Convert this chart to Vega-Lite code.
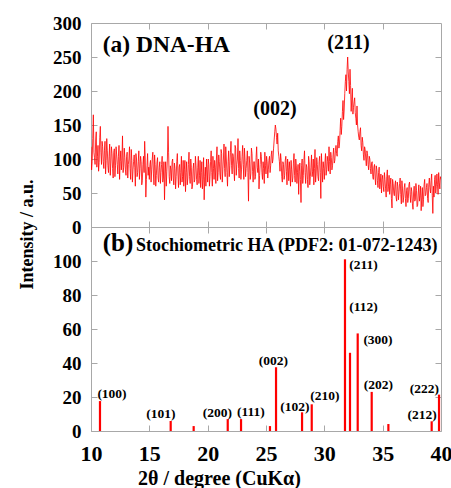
{
  "$schema": "https://vega.github.io/schema/vega-lite/v6.json",
  "background": "white",
  "padding": {"left": 17, "top": 13, "right": 0, "bottom": 0},
  "bounds": "flush",
  "spacing": 0,
  "config": {
    "font": "Times New Roman, Liberation Serif, serif",
    "view": {"stroke": "#a8a8a8", "strokeWidth": 1},
    "axis": {
      "domain": false,
      "grid": false,
      "labelFlush": false,
      "tickColor": "#a8a8a8",
      "tickSize": -6,
      "tickWidth": 1,
      "labelFont": "Times New Roman, Liberation Serif, serif",
      "labelFontWeight": "bold",
      "labelColor": "black",
      "titleFont": "Times New Roman, Liberation Serif, serif",
      "titleFontWeight": "bold",
      "titleColor": "black"
    },
    "text": {"font": "Times New Roman, Liberation Serif, serif", "fontWeight": "bold", "color": "black"}
  },
  "datasets": {
    "scan": [
      {"t":10.0,"i":118},{"t":10.1,"i":96},{"t":10.2,"i":165},{"t":10.3,"i":102},{"t":10.4,"i":128},{"t":10.5,"i":88},{"t":10.6,"i":120},{"t":10.7,"i":95},{"t":10.8,"i":148},{"t":10.9,"i":92},
      {"t":11.0,"i":118},{"t":11.1,"i":86},{"t":11.2,"i":126},{"t":11.3,"i":98},{"t":11.4,"i":112},{"t":11.5,"i":80},{"t":11.6,"i":122},{"t":11.7,"i":94},{"t":11.8,"i":108},{"t":11.9,"i":72},
      {"t":12.0,"i":115},{"t":12.1,"i":90},{"t":12.2,"i":106},{"t":12.3,"i":78},{"t":12.4,"i":120},{"t":12.5,"i":96},{"t":12.6,"i":84},{"t":12.7,"i":134},{"t":12.8,"i":88},{"t":12.9,"i":102},
      {"t":13.0,"i":76},{"t":13.1,"i":110},{"t":13.2,"i":92},{"t":13.3,"i":118},{"t":13.4,"i":70},{"t":13.5,"i":98},{"t":13.6,"i":84},{"t":13.7,"i":106},{"t":13.8,"i":60},{"t":13.9,"i":100},
      {"t":14.0,"i":80},{"t":14.1,"i":112},{"t":14.2,"i":86},{"t":14.3,"i":96},{"t":14.4,"i":68},{"t":14.5,"i":104},{"t":14.6,"i":126},{"t":14.7,"i":44},{"t":14.8,"i":90},{"t":14.9,"i":76},
      {"t":15.0,"i":70},{"t":15.1,"i":98},{"t":15.2,"i":84},{"t":15.3,"i":110},{"t":15.4,"i":62},{"t":15.5,"i":92},{"t":15.6,"i":76},{"t":15.7,"i":102},{"t":15.8,"i":66},{"t":15.9,"i":96},
      {"t":16.0,"i":80},{"t":16.1,"i":104},{"t":16.2,"i":72},{"t":16.3,"i":40},{"t":16.4,"i":96},{"t":16.5,"i":82},{"t":16.6,"i":148},{"t":16.7,"i":74},{"t":16.8,"i":90},{"t":16.9,"i":68},
      {"t":17.0,"i":100},{"t":17.1,"i":62},{"t":17.2,"i":86},{"t":17.3,"i":74},{"t":17.4,"i":108},{"t":17.5,"i":58},{"t":17.6,"i":92},{"t":17.7,"i":80},{"t":17.8,"i":66},{"t":17.9,"i":98},
      {"t":18.0,"i":84},{"t":18.1,"i":52},{"t":18.2,"i":96},{"t":18.3,"i":72},{"t":18.4,"i":110},{"t":18.5,"i":64},{"t":18.6,"i":88},{"t":18.7,"i":60},{"t":18.8,"i":94},{"t":18.9,"i":70},
      {"t":19.0,"i":90},{"t":19.1,"i":62},{"t":19.2,"i":104},{"t":19.3,"i":76},{"t":19.4,"i":58},{"t":19.5,"i":96},{"t":19.6,"i":70},{"t":19.7,"i":40},{"t":19.8,"i":88},{"t":19.9,"i":100},
      {"t":20.0,"i":66},{"t":20.1,"i":92},{"t":20.2,"i":74},{"t":20.3,"i":112},{"t":20.4,"i":60},{"t":20.5,"i":86},{"t":20.6,"i":98},{"t":20.7,"i":64},{"t":20.8,"i":118},{"t":20.9,"i":80},
      {"t":21.0,"i":96},{"t":21.1,"i":70},{"t":21.2,"i":108},{"t":21.3,"i":84},{"t":21.4,"i":122},{"t":21.5,"i":74},{"t":21.6,"i":100},{"t":21.7,"i":60},{"t":21.8,"i":112},{"t":21.9,"i":90},
      {"t":22.0,"i":126},{"t":22.1,"i":78},{"t":22.2,"i":104},{"t":22.3,"i":68},{"t":22.4,"i":116},{"t":22.5,"i":92},{"t":22.6,"i":130},{"t":22.7,"i":72},{"t":22.8,"i":98},{"t":22.9,"i":84},
      {"t":23.0,"i":120},{"t":23.1,"i":70},{"t":23.2,"i":100},{"t":23.3,"i":86},{"t":23.4,"i":112},{"t":23.5,"i":38},{"t":23.6,"i":94},{"t":23.7,"i":78},{"t":23.8,"i":108},{"t":23.9,"i":66},
      {"t":24.0,"i":96},{"t":24.1,"i":74},{"t":24.2,"i":118},{"t":24.3,"i":80},{"t":24.4,"i":56},{"t":24.5,"i":92},{"t":24.6,"i":104},{"t":24.7,"i":70},{"t":24.8,"i":86},{"t":24.9,"i":110},
      {"t":25.0,"i":78},{"t":25.1,"i":96},{"t":25.2,"i":84},{"t":25.3,"i":104},{"t":25.4,"i":90},{"t":25.5,"i":112},{"t":25.6,"i":100},{"t":25.7,"i":128},{"t":25.8,"i":150},{"t":25.9,"i":132},
      {"t":26.0,"i":138},{"t":26.1,"i":104},{"t":26.2,"i":82},{"t":26.3,"i":98},{"t":26.4,"i":66},{"t":26.5,"i":92},{"t":26.6,"i":76},{"t":26.7,"i":104},{"t":26.8,"i":62},{"t":26.9,"i":88},
      {"t":27.0,"i":96},{"t":27.1,"i":60},{"t":27.2,"i":84},{"t":27.3,"i":72},{"t":27.4,"i":108},{"t":27.5,"i":66},{"t":27.6,"i":90},{"t":27.7,"i":80},{"t":27.8,"i":48},{"t":27.9,"i":94},
      {"t":28.0,"i":36},{"t":28.1,"i":100},{"t":28.2,"i":76},{"t":28.3,"i":112},{"t":28.4,"i":64},{"t":28.5,"i":88},{"t":28.6,"i":58},{"t":28.7,"i":96},{"t":28.8,"i":74},{"t":28.9,"i":106},
      {"t":29.0,"i":82},{"t":29.1,"i":62},{"t":29.2,"i":114},{"t":29.3,"i":78},{"t":29.4,"i":92},{"t":29.5,"i":68},{"t":29.6,"i":104},{"t":29.7,"i":42},{"t":29.8,"i":88},{"t":29.9,"i":96},
      {"t":30.0,"i":70},{"t":30.1,"i":108},{"t":30.2,"i":84},{"t":30.3,"i":96},{"t":30.4,"i":118},{"t":30.5,"i":78},{"t":30.6,"i":102},{"t":30.7,"i":90},{"t":30.8,"i":116},{"t":30.9,"i":98},
      {"t":31.0,"i":120},{"t":31.1,"i":104},{"t":31.2,"i":134},{"t":31.3,"i":122},{"t":31.4,"i":160},{"t":31.5,"i":148},{"t":31.6,"i":186},{"t":31.7,"i":172},{"t":31.8,"i":214},{"t":31.9,"i":200},
      {"t":32.0,"i":250},{"t":32.1,"i":214},{"t":32.2,"i":232},{"t":32.3,"i":170},{"t":32.4,"i":204},{"t":32.5,"i":176},{"t":32.6,"i":190},{"t":32.7,"i":160},{"t":32.8,"i":178},{"t":32.9,"i":140},
      {"t":33.0,"i":128},{"t":33.1,"i":146},{"t":33.2,"i":112},{"t":33.3,"i":124},{"t":33.4,"i":98},{"t":33.5,"i":114},{"t":33.6,"i":90},{"t":33.7,"i":108},{"t":33.8,"i":84},{"t":33.9,"i":100},
      {"t":34.0,"i":78},{"t":34.1,"i":96},{"t":34.2,"i":70},{"t":34.3,"i":92},{"t":34.4,"i":62},{"t":34.5,"i":84},{"t":34.6,"i":58},{"t":34.7,"i":88},{"t":34.8,"i":66},{"t":34.9,"i":50},
      {"t":35.0,"i":76},{"t":35.1,"i":52},{"t":35.2,"i":70},{"t":35.3,"i":44},{"t":35.4,"i":84},{"t":35.5,"i":60},{"t":35.6,"i":48},{"t":35.7,"i":72},{"t":35.8,"i":28},{"t":35.9,"i":64},
      {"t":36.0,"i":46},{"t":36.1,"i":68},{"t":36.2,"i":38},{"t":36.3,"i":60},{"t":36.4,"i":50},{"t":36.5,"i":72},{"t":36.6,"i":34},{"t":36.7,"i":56},{"t":36.8,"i":44},{"t":36.9,"i":64},
      {"t":37.0,"i":30},{"t":37.1,"i":58},{"t":37.2,"i":42},{"t":37.3,"i":66},{"t":37.4,"i":36},{"t":37.5,"i":52},{"t":37.6,"i":26},{"t":37.7,"i":60},{"t":37.8,"i":40},{"t":37.9,"i":54},
      {"t":38.0,"i":32},{"t":38.1,"i":62},{"t":38.2,"i":46},{"t":38.3,"i":24},{"t":38.4,"i":58},{"t":38.5,"i":40},{"t":38.6,"i":70},{"t":38.7,"i":48},{"t":38.8,"i":64},{"t":38.9,"i":36},
      {"t":39.0,"i":72},{"t":39.1,"i":50},{"t":39.2,"i":78},{"t":39.3,"i":20},{"t":39.4,"i":44},{"t":39.5,"i":76},{"t":39.6,"i":60},{"t":39.7,"i":62},{"t":39.8,"i":80},{"t":39.9,"i":56},
      {"t":40.0,"i":70},
      {"t":10.05,"i":84},{"t":10.15,"i":130},{"t":10.25,"i":110},{"t":10.35,"i":92},{"t":10.45,"i":140},{"t":10.55,"i":104},{"t":10.65,"i":82},{"t":10.75,"i":132},{"t":10.85,"i":110},{"t":10.95,"i":126},
      {"t":11.05,"i":96},{"t":11.15,"i":112},{"t":11.25,"i":78},{"t":11.35,"i":130},{"t":11.45,"i":90},{"t":11.55,"i":104},{"t":11.65,"i":76},{"t":11.75,"i":118},{"t":11.85,"i":86},{"t":11.95,"i":110},
      {"t":12.05,"i":74},{"t":12.15,"i":118},{"t":12.25,"i":92},{"t":12.35,"i":104},{"t":12.45,"i":70},{"t":12.55,"i":112},{"t":12.65,"i":98},{"t":12.75,"i":80},{"t":12.85,"i":116},{"t":12.95,"i":84},
      {"t":13.05,"i":104},{"t":13.15,"i":72},{"t":13.25,"i":100},{"t":13.35,"i":86},{"t":13.45,"i":114},{"t":13.55,"i":66},{"t":13.65,"i":96},{"t":13.75,"i":88},{"t":13.85,"i":108},{"t":13.95,"i":74},
      {"t":14.05,"i":96},{"t":14.15,"i":70},{"t":14.25,"i":104},{"t":14.35,"i":62},{"t":14.45,"i":92},{"t":14.55,"i":80},{"t":14.65,"i":100},{"t":14.75,"i":70},{"t":14.85,"i":108},{"t":14.95,"i":88},
      {"t":15.05,"i":92},{"t":15.15,"i":66},{"t":15.25,"i":100},{"t":15.35,"i":78},{"t":15.45,"i":106},{"t":15.55,"i":60},{"t":15.65,"i":94},{"t":15.75,"i":72},{"t":15.85,"i":88},{"t":15.95,"i":64},
      {"t":16.05,"i":92},{"t":16.15,"i":66},{"t":16.25,"i":96},{"t":16.35,"i":78},{"t":16.45,"i":60},{"t":16.55,"i":100},{"t":16.65,"i":110},{"t":16.75,"i":64},{"t":16.85,"i":84},{"t":16.95,"i":96},
      {"t":17.05,"i":72},{"t":17.15,"i":94},{"t":17.25,"i":56},{"t":17.35,"i":96},{"t":17.45,"i":78},{"t":17.55,"i":88},{"t":17.65,"i":62},{"t":17.75,"i":104},{"t":17.85,"i":74},{"t":17.95,"i":60},
      {"t":18.05,"i":98},{"t":18.15,"i":80},{"t":18.25,"i":62},{"t":18.35,"i":92},{"t":18.45,"i":74},{"t":18.55,"i":100},{"t":18.65,"i":56},{"t":18.75,"i":86},{"t":18.85,"i":66},{"t":18.95,"i":104},
      {"t":19.05,"i":70},{"t":19.15,"i":88},{"t":19.25,"i":64},{"t":19.35,"i":98},{"t":19.45,"i":80},{"t":19.55,"i":56},{"t":19.65,"i":102},{"t":19.75,"i":74},{"t":19.85,"i":60},{"t":19.95,"i":84},
      {"t":20.05,"i":100},{"t":20.15,"i":60},{"t":20.25,"i":96},{"t":20.35,"i":80},{"t":20.45,"i":104},{"t":20.55,"i":70},{"t":20.65,"i":88},{"t":20.75,"i":100},{"t":20.85,"i":68},{"t":20.95,"i":106},
      {"t":21.05,"i":78},{"t":21.15,"i":114},{"t":21.25,"i":66},{"t":21.35,"i":100},{"t":21.45,"i":86},{"t":21.55,"i":118},{"t":21.65,"i":80},{"t":21.75,"i":96},{"t":21.85,"i":74},{"t":21.95,"i":110},
      {"t":22.05,"i":90},{"t":22.15,"i":108},{"t":22.25,"i":84},{"t":22.35,"i":120},{"t":22.45,"i":76},{"t":22.55,"i":100},{"t":22.65,"i":86},{"t":22.75,"i":112},{"t":22.85,"i":70},{"t":22.95,"i":104},
      {"t":23.05,"i":92},{"t":23.15,"i":116},{"t":23.25,"i":74},{"t":23.35,"i":98},{"t":23.45,"i":80},{"t":23.55,"i":104},{"t":23.65,"i":70},{"t":23.75,"i":116},{"t":23.85,"i":82},{"t":23.95,"i":96},
      {"t":24.05,"i":70},{"t":24.15,"i":102},{"t":24.25,"i":88},{"t":24.35,"i":100},{"t":24.45,"i":76},{"t":24.55,"i":110},{"t":24.65,"i":80},{"t":24.75,"i":96},{"t":24.85,"i":64},{"t":24.95,"i":90},
      {"t":25.05,"i":104},{"t":25.15,"i":72},{"t":25.25,"i":98},{"t":25.35,"i":80},{"t":25.45,"i":106},{"t":25.55,"i":94},{"t":25.65,"i":116},{"t":25.75,"i":140},{"t":25.85,"i":144},{"t":25.95,"i":122},
      {"t":26.05,"i":112},{"t":26.15,"i":96},{"t":26.25,"i":108},{"t":26.35,"i":74},{"t":26.45,"i":96},{"t":26.55,"i":70},{"t":26.65,"i":98},{"t":26.75,"i":82},{"t":26.85,"i":100},{"t":26.95,"i":68},
      {"t":27.05,"i":84},{"t":27.15,"i":98},{"t":27.25,"i":66},{"t":27.35,"i":94},{"t":27.45,"i":76},{"t":27.55,"i":100},{"t":27.65,"i":64},{"t":27.75,"i":92},{"t":27.85,"i":82},{"t":27.95,"i":70},
      {"t":28.05,"i":90},{"t":28.15,"i":64},{"t":28.25,"i":98},{"t":28.35,"i":80},{"t":28.45,"i":92},{"t":28.55,"i":70},{"t":28.65,"i":104},{"t":28.75,"i":62},{"t":28.85,"i":88},{"t":28.95,"i":74},
      {"t":29.05,"i":100},{"t":29.15,"i":86},{"t":29.25,"i":66},{"t":29.35,"i":102},{"t":29.45,"i":74},{"t":29.55,"i":96},{"t":29.65,"i":80},{"t":29.75,"i":108},{"t":29.85,"i":66},{"t":29.95,"i":86},
      {"t":30.05,"i":94},{"t":30.15,"i":76},{"t":30.25,"i":104},{"t":30.35,"i":82},{"t":30.45,"i":96},{"t":30.55,"i":110},{"t":30.65,"i":84},{"t":30.75,"i":106},{"t":30.85,"i":94},{"t":30.95,"i":112},
      {"t":31.05,"i":108},{"t":31.15,"i":126},{"t":31.25,"i":116},{"t":31.35,"i":142},{"t":31.45,"i":136},{"t":31.55,"i":170},{"t":31.65,"i":158},{"t":31.75,"i":196},{"t":31.85,"i":224},{"t":31.95,"i":232},
      {"t":32.05,"i":228},{"t":32.15,"i":196},{"t":32.25,"i":208},{"t":32.35,"i":188},{"t":32.45,"i":166},{"t":32.55,"i":184},{"t":32.65,"i":168},{"t":32.75,"i":150},{"t":32.85,"i":150},{"t":32.95,"i":132},
      {"t":33.05,"i":140},{"t":33.15,"i":120},{"t":33.25,"i":132},{"t":33.35,"i":106},{"t":33.45,"i":118},{"t":33.55,"i":100},{"t":33.65,"i":112},{"t":33.75,"i":92},{"t":33.85,"i":104},{"t":33.95,"i":86},
      {"t":34.05,"i":94},{"t":34.15,"i":74},{"t":34.25,"i":88},{"t":34.35,"i":72},{"t":34.45,"i":90},{"t":34.55,"i":68},{"t":34.65,"i":80},{"t":34.75,"i":56},{"t":34.85,"i":78},{"t":34.95,"i":70},
      {"t":35.05,"i":60},{"t":35.15,"i":80},{"t":35.25,"i":56},{"t":35.35,"i":74},{"t":35.45,"i":52},{"t":35.55,"i":76},{"t":35.65,"i":62},{"t":35.75,"i":42},{"t":35.85,"i":70},{"t":35.95,"i":50},
      {"t":36.05,"i":62},{"t":36.15,"i":44},{"t":36.25,"i":66},{"t":36.35,"i":40},{"t":36.45,"i":64},{"t":36.55,"i":48},{"t":36.65,"i":68},{"t":36.75,"i":36},{"t":36.85,"i":58},{"t":36.95,"i":42},
      {"t":37.05,"i":54},{"t":37.15,"i":36},{"t":37.25,"i":62},{"t":37.35,"i":48},{"t":37.45,"i":58},{"t":37.55,"i":34},{"t":37.65,"i":50},{"t":37.75,"i":38},{"t":37.85,"i":64},{"t":37.95,"i":30},
      {"t":38.05,"i":50},{"t":38.15,"i":38},{"t":38.25,"i":60},{"t":38.35,"i":44},{"t":38.45,"i":30},{"t":38.55,"i":62},{"t":38.65,"i":46},{"t":38.75,"i":58},{"t":38.85,"i":42},{"t":38.95,"i":62},
      {"t":39.05,"i":58},{"t":39.15,"i":68},{"t":39.25,"i":46},{"t":39.35,"i":60},{"t":39.45,"i":70},{"t":39.55,"i":50},{"t":39.65,"i":78},{"t":39.75,"i":48},{"t":39.85,"i":66},{"t":39.95,"i":74}
    ],
    "panelA": [{"t": 11.0, "v": 258, "label": "(a) DNA-HA"}],
    "peaksA": [
      {"t": 25.77, "v": 164, "label": "(002)"},
      {"t": 32.07, "v": 262, "label": "(211)"}
    ],
    "sticks": [
      {"t": 10.77, "v": 17.6},
      {"t": 16.83, "v": 5.9},
      {"t": 18.8, "v": 2.9},
      {"t": 21.72, "v": 7},
      {"t": 22.86, "v": 7},
      {"t": 25.34, "v": 2.9},
      {"t": 25.86, "v": 37.5},
      {"t": 28.09, "v": 11},
      {"t": 28.92, "v": 15.7},
      {"t": 31.77, "v": 101},
      {"t": 32.2, "v": 46},
      {"t": 32.86, "v": 57.4},
      {"t": 34.06, "v": 23},
      {"t": 35.49, "v": 4.1},
      {"t": 39.2, "v": 5.7},
      {"t": 39.83, "v": 21.4}
    ],
    "panelB": [{"t": 11.0, "v": 106, "label": "(b)"}],
    "panelBsub": [{"t": 13.86, "v": 106, "label": "Stochiometric HA (PDF2: 01-072-1243)"}],
    "hkl": [
      {"t": 11.8, "v": 19.4, "label": "(100)"},
      {"t": 15.99, "v": 7.6, "label": "(101)"},
      {"t": 20.83, "v": 8.4, "label": "(200)"},
      {"t": 23.7, "v": 8.6, "label": "(111)"},
      {"t": 25.64, "v": 38.8, "label": "(002)"},
      {"t": 27.47, "v": 11.5, "label": "(102)"},
      {"t": 30.04, "v": 18.2, "label": "(210)"},
      {"t": 33.36, "v": 95.5, "label": "(211)"},
      {"t": 33.36, "v": 70.8, "label": "(112)"},
      {"t": 34.6, "v": 51.2, "label": "(300)"},
      {"t": 34.64, "v": 24.9, "label": "(202)"},
      {"t": 38.39, "v": 7.2, "label": "(212)"},
      {"t": 38.57, "v": 22.5, "label": "(222)"}
    ]
  },
  "vconcat": [
    {
      "width": 350,
      "height": 204,
      "resolve": {"axis": {"x": "independent", "y": "independent"}},
      "layer": [
        {
          "data": {"name": "scan"},
          "mark": {"type": "line", "color": "#ff0000", "strokeWidth": 0.8, "clip": true},
          "encoding": {
            "x": {"field": "t", "type": "quantitative", "scale": {"domain": [10, 40], "nice": false, "zero": false},
                  "axis": {"orient": "bottom", "labels": false, "title": null, "values": [15, 20, 25, 30, 35]}},
            "y": {"field": "i", "type": "quantitative", "scale": {"domain": [0, 300], "nice": false},
                  "axis": {"orient": "left", "values": [0, 50, 100, 150, 200, 250, 300], "labelFontSize": 19, "labelPadding": 16,
                           "title": "Intensity / a.u.", "titleFontSize": 18, "titleX": -64, "titleY": 211, "titleBaseline": "middle", "titleAlign": "center"}}
          }
        },
        {
          "data": {"name": "panelA"},
          "mark": {"type": "text", "align": "left", "baseline": "alphabetic", "fontSize": 23.5},
          "encoding": {
            "x": {"field": "t", "type": "quantitative", "axis": {"orient": "top", "labels": false, "title": null, "values": [15, 20, 25, 30, 35]}},
            "y": {"field": "v", "type": "quantitative", "axis": {"orient": "right", "labels": false, "title": null, "values": [50, 100, 150, 200, 250]}},
            "text": {"field": "label"}
          }
        },
        {
          "data": {"name": "peaksA"},
          "mark": {"type": "text", "align": "center", "baseline": "alphabetic", "fontSize": 20},
          "encoding": {
            "x": {"field": "t", "type": "quantitative", "axis": null},
            "y": {"field": "v", "type": "quantitative", "axis": null},
            "text": {"field": "label"}
          }
        }
      ]
    },
    {
      "width": 350,
      "height": 204,
      "resolve": {"axis": {"x": "independent", "y": "independent"}},
      "layer": [
        {
          "data": {"name": "sticks"},
          "mark": {"type": "rule", "color": "#ff0000", "strokeWidth": 2.2},
          "encoding": {
            "x": {"field": "t", "type": "quantitative", "scale": {"domain": [10, 40], "nice": false, "zero": false},
                  "axis": {"orient": "bottom", "values": [10, 15, 20, 25, 30, 35, 40], "labelFontSize": 22, "labelPadding": 18,
                           "title": "2θ / degree (CuKα)", "titleFontSize": 20, "titleX": 128, "titleY": 53, "titleBaseline": "alphabetic", "titleAlign": "center"}},
            "y": {"field": "v", "type": "quantitative", "scale": {"domain": [0, 120], "nice": false},
                  "axis": {"orient": "left", "values": [0, 20, 40, 60, 80, 100], "labelFontSize": 19, "labelPadding": 16, "title": null}},
            "y2": {"datum": 0}
          }
        },
        {
          "data": {"name": "panelB"},
          "mark": {"type": "text", "align": "left", "baseline": "alphabetic", "fontSize": 25},
          "encoding": {
            "x": {"field": "t", "type": "quantitative", "axis": {"orient": "top", "labels": false, "title": null, "values": [15, 20, 25, 30, 35]}},
            "y": {"field": "v", "type": "quantitative", "axis": {"orient": "right", "labels": false, "title": null, "values": [20, 40, 60, 80, 100]}},
            "text": {"field": "label"}
          }
        },
        {
          "data": {"name": "panelBsub"},
          "mark": {"type": "text", "align": "left", "baseline": "alphabetic", "fontSize": 18},
          "encoding": {
            "x": {"field": "t", "type": "quantitative", "axis": null},
            "y": {"field": "v", "type": "quantitative", "axis": null},
            "text": {"field": "label"}
          }
        },
        {
          "data": {"name": "hkl"},
          "mark": {"type": "text", "align": "center", "baseline": "alphabetic", "fontSize": 13.5},
          "encoding": {
            "x": {"field": "t", "type": "quantitative", "axis": null},
            "y": {"field": "v", "type": "quantitative", "axis": null},
            "text": {"field": "label"}
          }
        }
      ]
    }
  ]
}
